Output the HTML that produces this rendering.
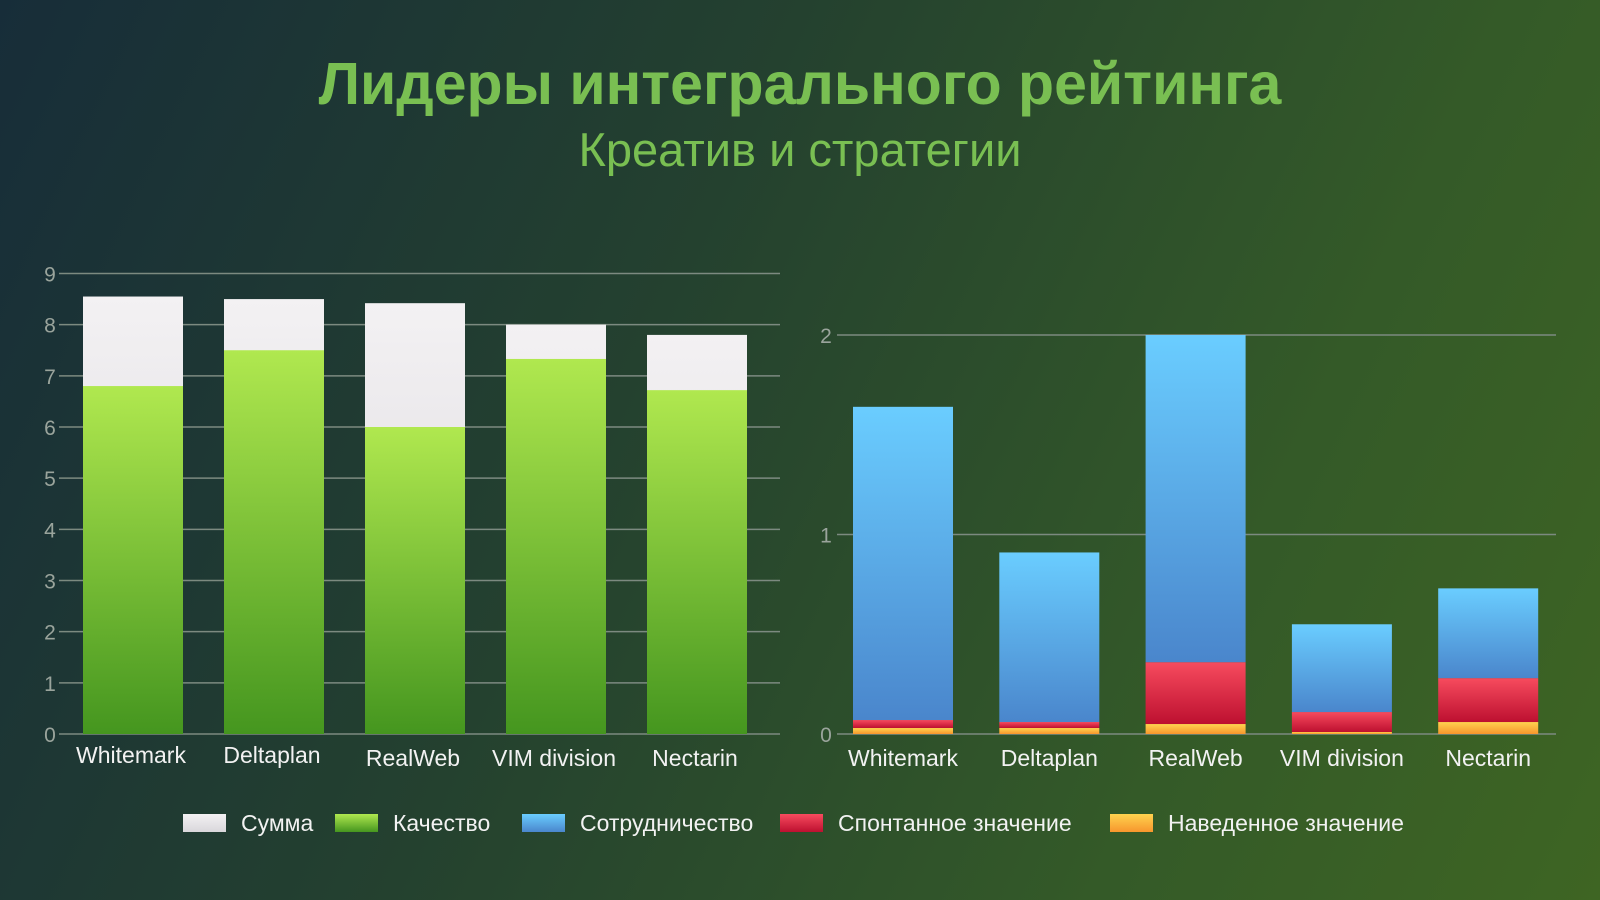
<!DOCTYPE html>
<html><head><meta charset="utf-8"><style>
html,body{margin:0;padding:0;width:1600px;height:900px;overflow:hidden}
body{background:linear-gradient(115deg,#172d39 0%,#24412f 40%,#345a28 75%,#3e6523 100%);font-family:"Liberation Sans","DejaVu Sans",sans-serif}
svg{position:absolute;left:0;top:0}
</style></head><body>
<svg id="c" width="1600" height="900" viewBox="0 0 1600 900">
<defs>
<linearGradient id="gW" x1="0" y1="0" x2="0" y2="1"><stop offset="0" stop-color="#f3f1f3"/><stop offset="1" stop-color="#d9d7db"/></linearGradient>
<linearGradient id="gG" x1="0" y1="0" x2="0" y2="1"><stop offset="0" stop-color="#b0e84f"/><stop offset="1" stop-color="#45961f"/></linearGradient>
<linearGradient id="gB" x1="0" y1="0" x2="0" y2="1"><stop offset="0" stop-color="#6acdff"/><stop offset="1" stop-color="#4a86cc"/></linearGradient>
<linearGradient id="gR" x1="0" y1="0" x2="0" y2="1"><stop offset="0" stop-color="#f74b5e"/><stop offset="1" stop-color="#bd1030"/></linearGradient>
<linearGradient id="gY" x1="0" y1="0" x2="0" y2="1"><stop offset="0" stop-color="#ffd34f"/><stop offset="1" stop-color="#f7962d"/></linearGradient>
</defs>
<text x="800" y="104" text-anchor="middle" font-size="59" font-weight="bold" fill="#79bf52">Лидеры интегрального рейтинга</text>
<text x="800" y="166" text-anchor="middle" font-size="47" fill="#79bf52">Креатив и стратегии</text>
<g id="left"></g>
<g id="right"></g>
<g id="legend"></g>
</svg>
<script>
const categories=["Whitemark","Deltaplan","RealWeb","VIM division","Nectarin"];
const sumValues=[8.55,8.5,8.42,8.0,7.8];
const qualityValues=[6.8,7.5,6.0,7.33,6.72];
const leftTicks=[0,1,2,3,4,5,6,7,8,9];
const inducedValues=[0.03,0.03,0.05,0.01,0.06];
const spontValues=[0.04,0.03,0.31,0.10,0.22];
const coopValues=[1.57,0.85,1.64,0.44,0.45];
const rightTicks=[0,1,2];
const legendLabels=["Сумма","Качество","Сотрудничество","Спонтанное значение","Наведенное значение"];
const NS="http://www.w3.org/2000/svg";
function mk(p,t,a,txt){const e=document.createElementNS(NS,t);for(const k in a)e.setAttribute(k,a[k]);if(txt!==undefined)e.textContent=txt;p.appendChild(e);return e;}
const L=document.getElementById('left');
const ly=v=>734-v*(734-273.5)/9;
const lx=i=>83+i*141;
leftTicks.forEach(t=>{
 const g=mk(L,'line',{x1:59,x2:780,y1:ly(t),y2:ly(t),stroke:'#7c8a80','stroke-width':1.5});
 
 const tx=mk(L,'text',{x:50,y:ly(t)+8,'text-anchor':'middle','font-size':21,fill:'#9aa49c'},t);
 
});
categories.forEach((c,i)=>{
 const s=mk(L,'rect',{x:lx(i),y:ly(sumValues[i]),width:100,height:ly(0)-ly(sumValues[i]),fill:'url(#gW)'});
 
 const q=mk(L,'rect',{x:lx(i),y:ly(qualityValues[i]),width:100,height:ly(0)-ly(qualityValues[i]),fill:'url(#gG)'});
 
 const t=mk(L,'text',{x:lx(i)+48,y:763+(i>=2?3:0),'text-anchor':'middle','font-size':23,fill:'#f2f2f2'},c);
 
});
const R=document.getElementById('right');
const ry=v=>734-v*(734-335)/2;
const rx=i=>853+i*146.3;
rightTicks.forEach(t=>{
 const g=mk(R,'line',{x1:837,x2:1556,y1:ry(t),y2:ry(t),stroke:'#7c8a80','stroke-width':1.5});
 
 const tx=mk(R,'text',{x:826,y:ry(t)+8,'text-anchor':'middle','font-size':21,fill:'#9aa49c'},t);
 
});
categories.forEach((c,i)=>{
 let base=0;
 [[inducedValues,'url(#gY)','bar-induced'],[spontValues,'url(#gR)','bar-spontaneous'],[coopValues,'url(#gB)','bar-cooperation']].forEach(([arr,f,n])=>{
  const v=arr[i];
  const r=mk(R,'rect',{x:rx(i),y:ry(base+v),width:100,height:ry(base)-ry(base+v),fill:f});
  
  base+=v;
 });
 const t=mk(R,'text',{x:rx(i)+50,y:766,'text-anchor':'middle','font-size':23,fill:'#f2f2f2'},c);
 
});
const G=document.getElementById('legend');
const fills=['url(#gW)','url(#gG)','url(#gB)','url(#gR)','url(#gY)'];
const sw=[183,335,522,780,1110];
legendLabels.forEach((l,i)=>{
 const r=mk(G,'rect',{x:sw[i],y:814,width:43,height:18,fill:fills[i]});
 
 const t=mk(G,'text',{x:sw[i]+58,y:831,'font-size':23,fill:'#f2f2f2'},l);
 
});
</script>
</body></html>
